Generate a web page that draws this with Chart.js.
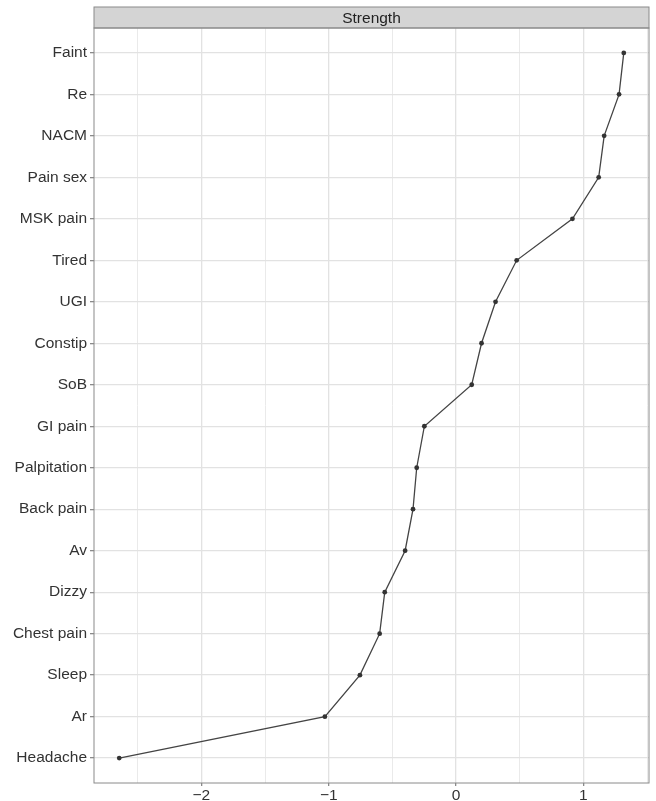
<!DOCTYPE html>
<html>
<head>
<meta charset="utf-8">
<script src="https://cdn.jsdelivr.net/npm/chart.js@4"></script>
<style>
  html, body { margin: 0; padding: 0; background: #fff; }
  #wrap { width: 656px; height: 801px; position: relative; }
</style>
</head>
<body>
<div id="wrap"><canvas id="chart"></canvas></div>
<script>
// symptoms, top to bottom
var symptoms = ['Faint', 'Re', 'NACM', 'Pain sex', 'MSK pain', 'Tired', 'UGI', 'Constip', 'SoB',
    'GI pain', 'Palpitation', 'Back pain', 'Av', 'Dizzy', 'Chest pain', 'Sleep', 'Ar', 'Headache'];
var strength = [1.317, 1.28, 1.163, 1.12, 0.914, 0.476, 0.31, 0.20, 0.123,
    -0.249, -0.309, -0.338, -0.40, -0.56, -0.60, -0.755, -1.03, -2.645];
var xTicks = [-2.5, -2, -1.5, -1, -0.5, 0, 0.5, 1, 1.5];
var stripTitle = 'Strength';

var fontFam = '"Liberation Sans", Arial, Helvetica, sans-serif';

// ggplot style 5% expansion
var lo = Math.min.apply(null, strength);
var hi = Math.max.apply(null, strength);
var pad = (hi - lo) * 0.05;

var isMajor = function(v) { return Number.isInteger(v); };

var panelPlugin = {
    id: 'panel',
    afterDraw: function(chart) {
        var a = chart.chartArea;
        var c = chart.ctx;
        c.save();
        // strip
        c.fillStyle = '#d4d4d4';
        c.fillRect(a.left, 7, a.right - a.left, a.top - 7);
        c.strokeStyle = '#8a8a8a';
        c.lineWidth = 1;
        c.strokeRect(a.left, 7, a.right - a.left, a.top - 7);
        c.fillStyle = '#222222';
        c.font = '15.5px ' + fontFam;
        c.textAlign = 'center';
        c.textBaseline = 'middle';
        c.fillText(stripTitle, (a.left + a.right) / 2, (7 + a.top) / 2 + 1);
        // panel border
        c.strokeStyle = '#8a8a8a';
        c.strokeRect(a.left, a.top, a.right - a.left, a.bottom - a.top);
        c.restore();
    }
};

var ctx = document.getElementById('chart');

var chart = new Chart(ctx, {
    type: 'line',
    data: {
        datasets: [
            {
                data: strength.map(function(v, i) { return { x: v, y: i }; }),
                borderColor: '#444444',
                borderWidth: 1.3,
                pointRadius: 2.4,
                pointBackgroundColor: '#333333',
                pointBorderColor: '#333333',
                pointBorderWidth: 0,
                tension: 0,
            },
        ],
    },
    options: {
        responsive: true,
        maintainAspectRatio: false,
        animation: false,
        layout: { padding: { top: 28, right: 7, left: 0, bottom: 0 } },
        plugins: { legend: { display: false }, tooltip: { enabled: false } },
        scales: {
            x: {
                type: 'linear',
                min: lo - pad,
                max: hi + pad,
                afterBuildTicks: function(scale) {
                    scale.ticks = xTicks.map(function(v) { return { value: v }; });
                },
                afterFit: function(scale) { scale.height = 18; },
                border: { display: false },
                grid: {
                    color: function(c) { return isMajor(c.tick.value) ? '#e2e2e2' : '#eaeaea'; },
                    lineWidth: function(c) { return isMajor(c.tick.value) ? 1.3 : 1; },
                    tickColor: function(c) { return isMajor(c.tick.value) ? '#8a8a8a' : 'rgba(0,0,0,0)'; },
                    tickLength: 3,
                },
                ticks: {
                    autoSkip: false,
                    maxRotation: 0,
                    padding: 0,
                    color: '#333333',
                    font: { family: fontFam, size: 15.5 },
                    callback: function(v) {
                        if (!isMajor(v)) return '';
                        return v < 0 ? '\u2212' + Math.abs(v) : String(v);
                    },
                },
            },
            y: {
                type: 'linear',
                reverse: true,
                min: -0.6,
                max: symptoms.length - 1 + 0.6,
                afterBuildTicks: function(scale) {
                    scale.ticks = symptoms.map(function(s, i) { return { value: i }; });
                },
                afterFit: function(scale) { scale.width = 94; },
                border: { display: false },
                grid: {
                    color: '#e2e2e2',
                    lineWidth: 1.3,
                    tickColor: '#8a8a8a',
                    tickLength: 4,
                },
                ticks: {
                    autoSkip: false,
                    padding: 3,
                    color: '#333333',
                    font: { family: fontFam, size: 15.5 },
                    callback: function(v) { return symptoms[v]; },
                },
            },
        },
    },
    plugins: [panelPlugin],
});
</script>
</body>
</html>
